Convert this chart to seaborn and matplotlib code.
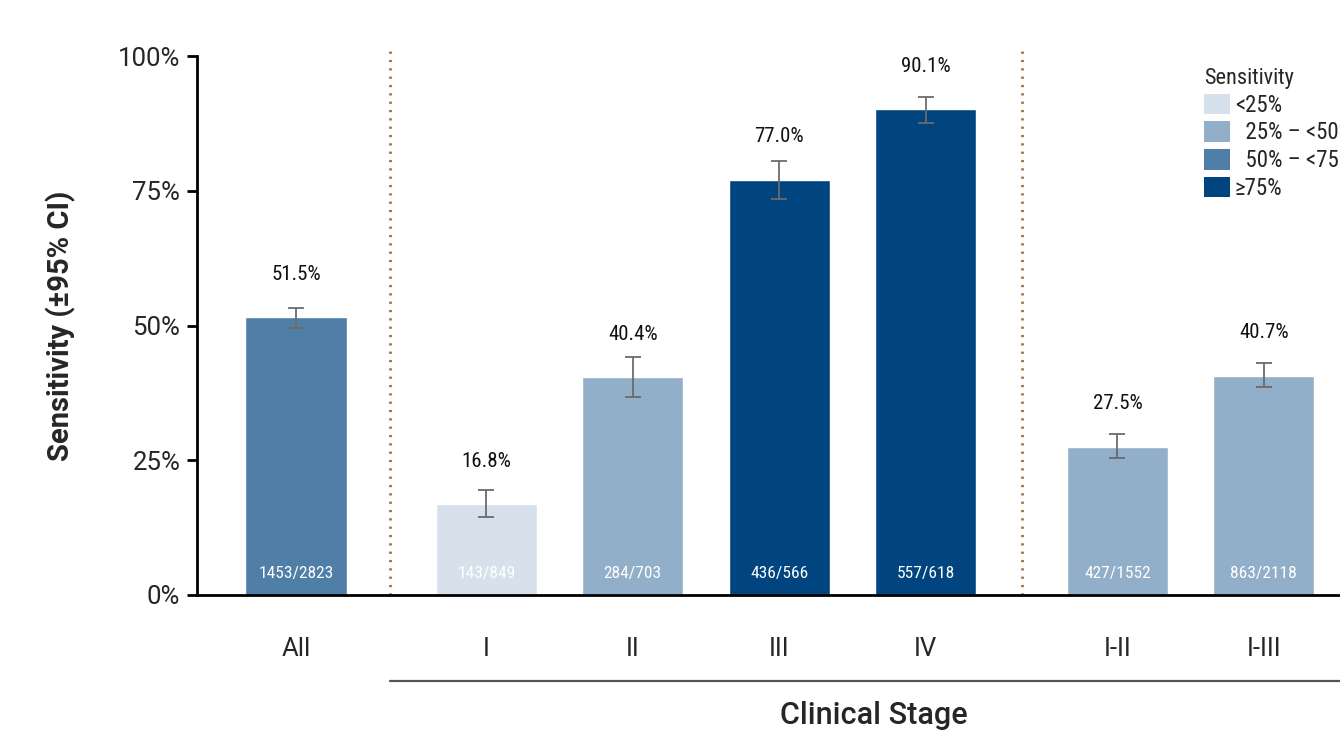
import pandas as pd
import numpy as np
import matplotlib
matplotlib.use('Agg')
import matplotlib.pyplot as plt
import seaborn as sns
from matplotlib.patches import Patch

# Data
groups = ['All', 'I', 'II', 'III', 'IV', 'I-II', 'I-III']
sensitivity = [51.5, 16.8, 40.4, 77.0, 90.1, 27.5, 40.7]
ci_low = [49.6, 14.5, 36.7, 73.5, 87.6, 25.4, 38.6]
ci_high = [53.3, 19.5, 44.2, 80.5, 92.4, 29.9, 43.0]
counts = ['1453/2823', '143/849', '284/703', '436/566', '557/618', '427/1552', '863/2118']

bins = ['<25%', '  25% \u2013 <50%', '  50% \u2013 <75%', '\u226575%']
bin_colors = ['#d6e1ec', '#92afc9', '#4f7ea7', '#00457f']

# layout: x positions with wider gaps between the three sections
xpos = [0, 1.3, 2.3, 3.3, 4.3, 5.61, 6.61]


def sens_bin(v):
    if v < 25:
        return bins[0]
    if v < 50:
        return bins[1]
    if v < 75:
        return bins[2]
    return bins[3]


df = pd.DataFrame({'group': groups, 'x': xpos, 'sens': sensitivity,
                   'lo': ci_low, 'hi': ci_high, 'n': counts})
df['bin'] = df['sens'].apply(sens_bin)

sns.set_style('white')
plt.rcParams['font.family'] = ['Roboto', 'DejaVu Sans']
cond = ['Roboto Condensed', 'Roboto', 'DejaVu Sans']

fig = plt.figure(figsize=(13.4, 7.42), dpi=100)
ax = fig.add_axes([197 / 1340, 1 - 595 / 742, 1 - 197 / 1340, 539 / 742])

sns.barplot(data=df, x='x', y='sens', hue='bin', hue_order=bins,
            palette=dict(zip(bins, bin_colors)), native_scale=True,
            dodge=False, width=0.69, errorbar=None, legend=False,
            saturation=1, ax=ax)

# error bars
yerr = [df['sens'] - df['lo'], df['hi'] - df['sens']]
ax.errorbar(df['x'], df['sens'], yerr=yerr, fmt='none', ecolor='#6b6b6b',
            elinewidth=1.3, capsize=6, capthick=1.3, zorder=3)

# value labels and counts
for _, r in df.iterrows():
    ax.text(r['x'], r['sens'] + 8, f"{r['sens']:.1f}%", ha='center', va='center',
            fontsize=15, family=cond, color='#111111')
    ax.text(r['x'], 4.0, r['n'], ha='center', va='center',
            fontsize=12.5, family=cond, color='white')

# dotted section dividers
for xd in [0.64, 4.955]:
    ax.plot([xd, xd], [0, 102], ls=(0, (0.8, 2.2)), color='#9c7636', lw=2,
            clip_on=False, zorder=1)

ax.set_ylim(0, 100)
ax.set_xlim(-0.676, 7.13)
ax.set_yticks([0, 25, 50, 75, 100])
ax.set_yticklabels(['0%', '25%', '50%', '75%', '100%'], fontsize=18.5)
ax.set_xticks(xpos)
ax.set_xticklabels(groups, fontsize=18.5)
ax.tick_params(axis='x', length=0, pad=30)
ax.tick_params(axis='y', length=7, width=2, color='black', left=True, pad=5)
ax.set_xlabel('')
ax.set_ylabel('Sensitivity (\u00b195% CI)', fontsize=21, fontweight='bold', labelpad=30)

for s in ['top', 'right']:
    ax.spines[s].set_visible(False)
for s in ['left', 'bottom']:
    ax.spines[s].set_color('black')
    ax.spines[s].set_linewidth(2)

# bracket under the clinical stages
ax.plot([0.64, 7.3], [-16, -16], color='#555555', lw=1.6, clip_on=False)
ax.text(3.945, -22.3, 'Clinical Stage', ha='center', va='center',
        fontsize=22, fontweight='medium')

handles = [Patch(facecolor=c, edgecolor='none') for c in bin_colors]
leg = fig.legend(handles, bins, title='Sensitivity', loc='upper left',
                 bbox_to_anchor=(1188 / 1340, 1 - 52 / 742), frameon=False,
                 handlelength=1.15, handleheight=1.0, handletextpad=0.2,
                 labelspacing=0.2, prop={'family': cond, 'size': 16.5},
                 alignment='left', borderaxespad=0.3)
leg.get_title().set_fontfamily(cond)
leg.get_title().set_fontsize(16)

fig.savefig('out.png', dpi=100)
